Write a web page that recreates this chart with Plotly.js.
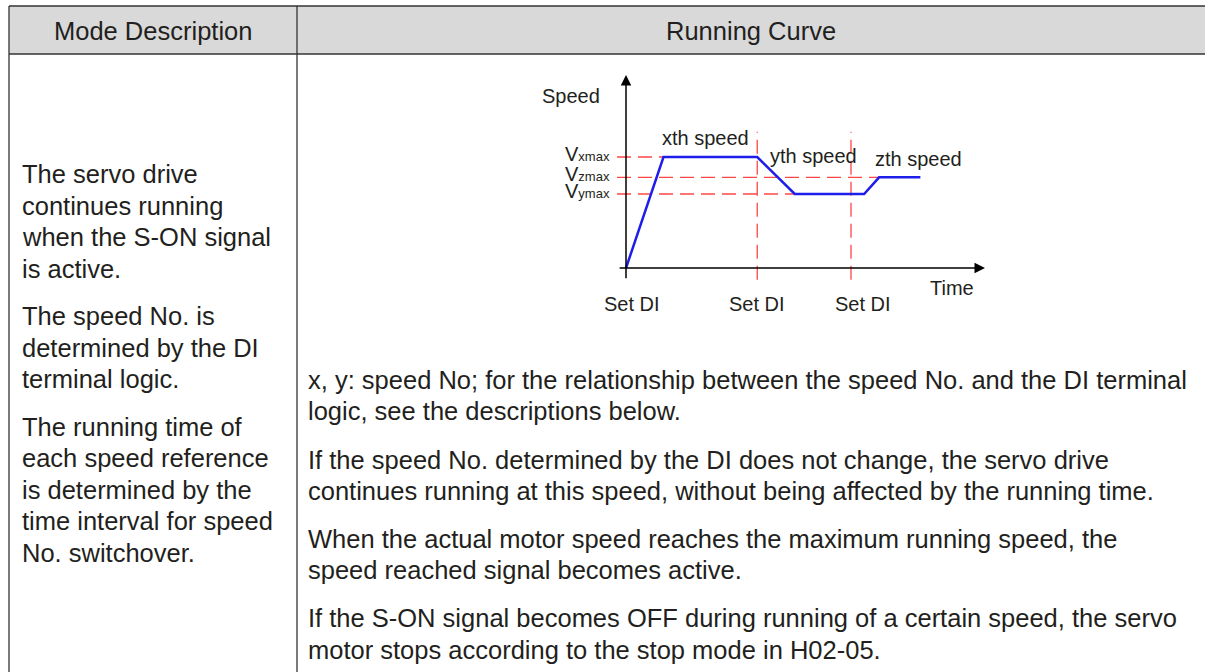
<!DOCTYPE html>
<html>
<head>
<meta charset="utf-8">
<script src="https://cdn.plot.ly/plotly-3.0.1.min.js"></script>
<style>
  html, body { margin: 0; padding: 0; background: #fff; }
  #chart { width: 1205px; height: 672px; }
</style>
</head>
<body>
<div id="chart"></div>
<script>
// running curve (time units arbitrary, Vymax = 2)
const speedTime  = [0, 1.0, 3.5, 4.5, 6.35, 6.75, 7.85];
const speedValue = [0, 3.0, 3.0, 2.0, 2.0, 2.45, 2.45];

const levelNames   = ['V<span style="font-size:13px">xmax</span>',
                      'V<span style="font-size:13px">zmax</span>',
                      'V<span style="font-size:13px">ymax</span>'];
const levelValues  = [3.0, 2.45, 2.0];
const levelEndTime = [1.0, 6.75, 4.5];   // where each guide meets the curve

const setDiTimes = [0, 3.5, 6.0];
const setDiLabel = 'Set DI';
const segmentNames = ['xth speed', 'yth speed', 'zth speed'];

const headerCols = ['Mode Description', 'Running Curve'];
const modeParagraphs = [
  ['The servo drive', 'continues running', 'when the S-ON signal', 'is active.'],
  ['The speed No. is', 'determined by the DI', 'terminal logic.'],
  ['The running time of', 'each speed reference', 'is determined by the',
   'time interval for speed', 'No. switchover.']
];
const noteParagraphs = [
  ['x, y: speed No; for the relationship between the speed No. and the DI terminal',
   'logic, see the descriptions below.'],
  ['If the speed No. determined by the DI does not change, the servo drive',
   'continues running at this speed, without being affected by the running time.'],
  ['When the actual motor speed reaches the maximum running speed, the',
   'speed reached signal becomes active.'],
  ['If the S-ON signal becomes OFF during running of a certain speed, the servo',
   'motor stops according to the stop mode in H02-05.']
];

const W = 1205, H = 672;
const px = v => v / W;
const py = v => 1 - v / H;

// chart frame in pixels
const ORIGIN_X = 626, ORIGIN_Y = 268, SX = 37.5, SY = 37;
const FRAME = {left: 560, right: 1010, top: 60, bottom: 320};

const BODY = {family: 'Liberation Sans, Arial, sans-serif', size: 25.5, color: '#231f20'};
const SMALL = {family: 'Liberation Sans, Arial, sans-serif', size: 20, color: '#231f20'};
const RED = 'rgb(255,70,70)';
const BLUE = 'rgb(30,30,235)';

var data = [];
var guideStart = -0.24, guideBottom = -0.32, guideTop = 3.68;
levelValues.forEach(function (v, i) {
  data.push({x: [guideStart, levelEndTime[i]], y: [v, v], mode: 'lines',
    line: {color: RED, width: 1.3, dash: '14px,7px'}, hoverinfo: 'skip'});
});
setDiTimes.slice(1).forEach(function (t) {
  data.push({x: [t, t], y: [guideBottom, guideTop], mode: 'lines',
    line: {color: RED, width: 1.3, dash: '14px,7px'}, hoverinfo: 'skip'});
});
data.push({x: speedTime, y: speedValue, mode: 'lines',
  line: {color: BLUE, width: 2.5}, hoverinfo: 'skip'});

var ann = [];
function txt(text, x, y, xanchor, font) {
  ann.push({text: text, x: px(x), y: py(y), xref: 'paper', yref: 'paper',
    xanchor: xanchor, yanchor: 'middle', showarrow: false, font: font,
    borderpad: 0, borderwidth: 0});
}
// header
txt(headerCols[0], 153, 31, 'center', BODY);
txt(headerCols[1], 751, 31, 'center', BODY);

// left column
var base = 183;
modeParagraphs.forEach(function (p, pi) {
  if (pi > 0) base += 16;
  p.forEach(function (line) { txt(line, 22, base - 8.8, 'left', BODY); base += 31.5; });
});
// right column
base = 389;
noteParagraphs.forEach(function (p, pi) {
  if (pi > 0) base += 17;
  p.forEach(function (line) { txt(line, 308, base - 8.8, 'left', BODY); base += 31.2; });
});

// chart labels
txt('Speed', 571, 96, 'center', SMALL);
txt('Time', 952, 288, 'center', SMALL);
txt(segmentNames[0], 705, 138, 'center', SMALL);
txt(segmentNames[1], 813, 156, 'center', SMALL);
txt(segmentNames[2], 918, 159, 'center', SMALL);
levelValues.forEach(function (v, i) {
  ann.push({text: levelNames[i], x: px(612), y: v, xref: 'paper', yref: 'y',
    xanchor: 'right', yanchor: 'middle', yshift: 3, showarrow: false, font: SMALL});
});
var diShift = [6, 0, 12];
setDiTimes.forEach(function (t, i) {
  ann.push({text: setDiLabel, x: t, y: py(304), xref: 'x', yref: 'paper',
    xanchor: 'center', yanchor: 'middle', xshift: diShift[i], showarrow: false, font: SMALL});
});
// axes with arrows
ann.push({x: 0, y: (ORIGIN_Y - 75) / SY, ax: 0, ay: guideBottom, xref: 'x', yref: 'y',
  axref: 'x', ayref: 'y', text: '', showarrow: true, arrowhead: 2, arrowsize: 1.4,
  arrowwidth: 1.5, arrowcolor: '#000', standoff: 0});
ann.push({x: (985 - ORIGIN_X) / SX, y: 0, ax: -0.21, ay: 0, xref: 'x', yref: 'y',
  axref: 'x', ayref: 'y', text: '', showarrow: true, arrowhead: 2, arrowsize: 1.4,
  arrowwidth: 1.5, arrowcolor: '#000', standoff: 0});

var LINE = '#333';
var shapes = [
  {type: 'rect', xref: 'paper', yref: 'paper', x0: px(9), x1: px(W), y0: py(54), y1: py(6),
    fillcolor: '#d9d9d9', line: {width: 0}, layer: 'below'},
  {type: 'line', xref: 'paper', yref: 'paper', x0: px(9), x1: px(W), y0: py(6), y1: py(6),
    line: {color: LINE, width: 1.6}},
  {type: 'line', xref: 'paper', yref: 'paper', x0: px(9), x1: px(W), y0: py(54), y1: py(54),
    line: {color: LINE, width: 1.6}},
  {type: 'line', xref: 'paper', yref: 'paper', x0: px(9), x1: px(9), y0: py(6), y1: py(H),
    line: {color: LINE, width: 1.3}},
  {type: 'line', xref: 'paper', yref: 'paper', x0: px(297), x1: px(297), y0: py(6), y1: py(H),
    line: {color: LINE, width: 1.3}}
];

var layout = {
  width: W, height: H,
  margin: {l: 0, r: 0, t: 0, b: 0},
  paper_bgcolor: '#fff', plot_bgcolor: 'rgba(0,0,0,0)',
  showlegend: false,
  xaxis: {domain: [px(FRAME.left), px(FRAME.right)],
    range: [(FRAME.left - ORIGIN_X) / SX, (FRAME.right - ORIGIN_X) / SX],
    visible: false, fixedrange: true},
  yaxis: {domain: [py(FRAME.bottom), py(FRAME.top)],
    range: [-(FRAME.bottom - ORIGIN_Y) / SY, (ORIGIN_Y - FRAME.top) / SY],
    visible: false, fixedrange: true},
  annotations: ann,
  shapes: shapes
};

Plotly.newPlot('chart', data, layout, {displayModeBar: false, staticPlot: true});
</script>
</body>
</html>
